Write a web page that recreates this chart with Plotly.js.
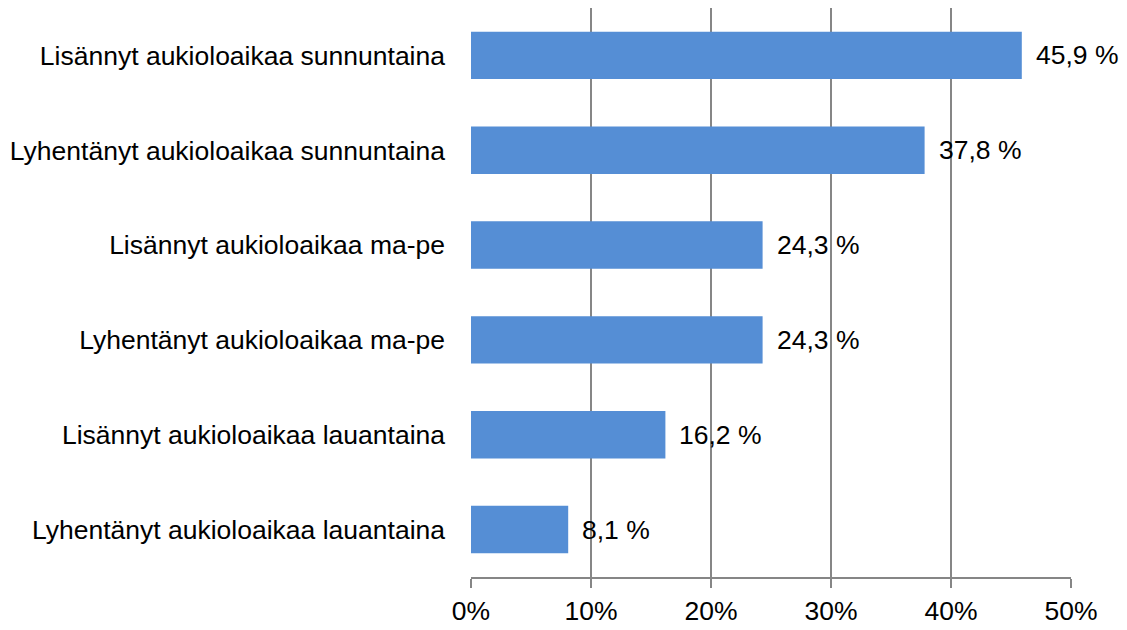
<!DOCTYPE html>
<html>
<head>
<meta charset="utf-8">
<script src="https://cdn.plot.ly/plotly-3.0.1.min.js"></script>
<style>html,body{margin:0;padding:0;background:#fff;}</style>
</head>
<body>
<div id="chart" style="width:1127px;height:630px;"></div>
<script>
const categories = [
  "Lisännyt aukioloaikaa sunnuntaina",
  "Lyhentänyt aukioloaikaa sunnuntaina",
  "Lisännyt aukioloaikaa ma-pe",
  "Lyhentänyt aukioloaikaa ma-pe",
  "Lisännyt aukioloaikaa lauantaina",
  "Lyhentänyt aukioloaikaa lauantaina"
];
const values = [45.9, 37.8, 24.3, 24.3, 16.2, 8.1];
const tickVals = [0, 10, 20, 30, 40, 50];
const tickLabels = ["0%", "10%", "20%", "30%", "40%", "50%"];
const valueLabels = ["45,9 %", "37,8 %", "24,3 %", "24,3 %", "16,2 %", "8,1 %"];

const fontFam = '"Liberation Sans", Arial, sans-serif';
const fs = 26.5;

const trace = {
  type: 'bar',
  orientation: 'h',
  y: categories.slice().reverse(),
  x: values.slice().reverse(),
  marker: {color: '#558ed5', line: {width: 0}},
  width: 0.5,
  hoverinfo: 'none'
};

const annotations = categories.map((c, i) => ({
  x: values[i], y: c, xref: 'x', yref: 'y',
  text: valueLabels[i], showarrow: false,
  xanchor: 'left', yanchor: 'middle', xshift: 12,
  font: {family: fontFam, size: fs, color: '#000'}
}));

const layout = {
  width: 1127, height: 630,
  margin: {l: 471, r: 56, t: 8, b: 53},
  paper_bgcolor: '#fff', plot_bgcolor: '#fff',
  showlegend: false,
  font: {family: fontFam, size: fs, color: '#000'},
  annotations: annotations,
  xaxis: {
    range: [0, 50],
    tickmode: 'array',
    tickvals: tickVals,
    ticktext: tickLabels,
    showgrid: true, gridcolor: '#868686', gridwidth: 2,
    showline: true, linecolor: '#868686', linewidth: 2,
    ticks: 'outside', ticklen: 9, tickcolor: '#868686', tickwidth: 2,
    zeroline: false,
    tickfont: {family: fontFam, size: fs, color: '#000'},
    fixedrange: true
  },
  yaxis: {
    type: 'category',
    showgrid: false, zeroline: false, showline: false,
    ticks: '',
    ticklabelstandoff: 25,
    tickfont: {family: fontFam, size: fs, color: '#000'},
    fixedrange: true
  }
};

Plotly.newPlot('chart', [trace], layout, {displayModeBar: false, staticPlot: true});
</script>
</body>
</html>
